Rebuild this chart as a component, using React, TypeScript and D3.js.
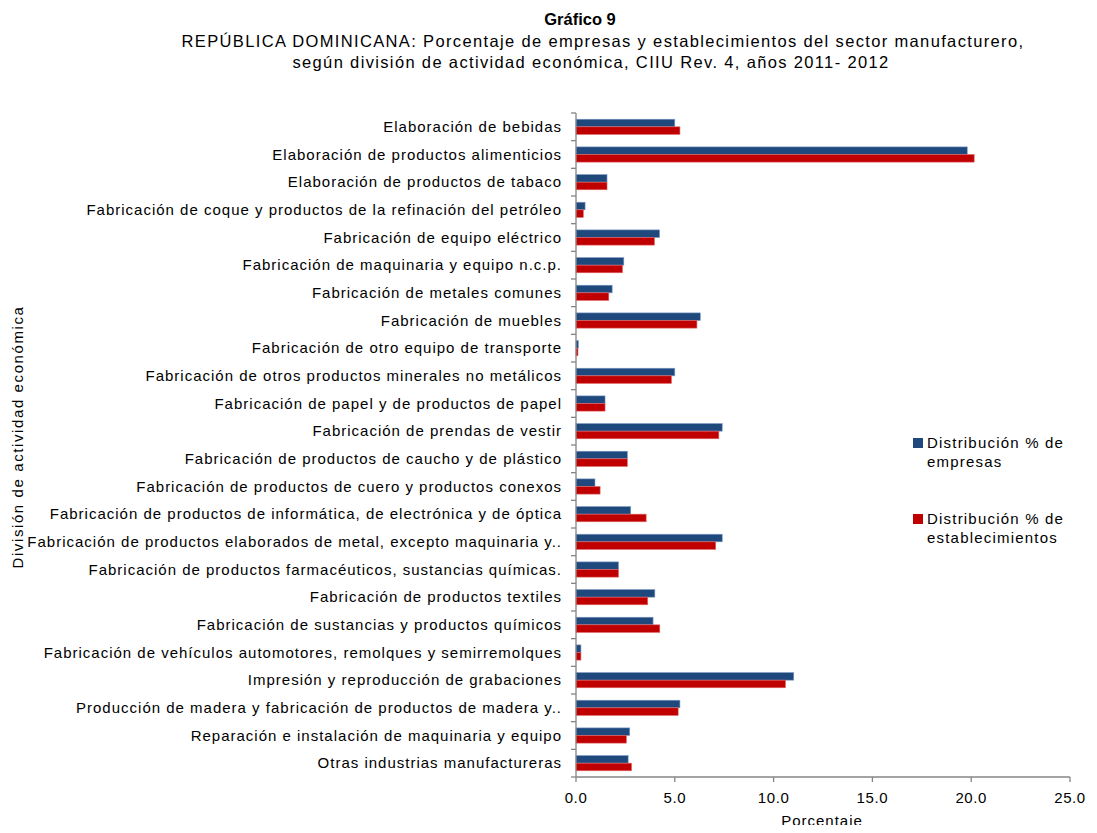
import React from "react";
import * as d3 from "d3";

const categories = [
  "Elaboración de bebidas",
  "Elaboración de productos alimenticios",
  "Elaboración de productos de tabaco",
  "Fabricación de coque y productos de la refinación del petróleo",
  "Fabricación de equipo eléctrico",
  "Fabricación de maquinaria y equipo n.c.p.",
  "Fabricación de metales comunes",
  "Fabricación de muebles",
  "Fabricación de otro equipo de transporte",
  "Fabricación de otros productos minerales no metálicos",
  "Fabricación de papel y de productos de papel",
  "Fabricación de prendas de vestir",
  "Fabricación de productos de caucho y de plástico",
  "Fabricación de productos de cuero y productos conexos",
  "Fabricación de productos de informática, de electrónica y de óptica",
  "Fabricación de productos elaborados de metal, excepto maquinaria y..",
  "Fabricación de productos farmacéuticos, sustancias químicas.",
  "Fabricación de productos textiles",
  "Fabricación de sustancias y productos químicos",
  "Fabricación de vehículos automotores, remolques y semirremolques",
  "Impresión y reproducción de grabaciones",
  "Producción de madera y fabricación de productos de madera y..",
  "Reparación e instalación de maquinaria y equipo",
  "Otras industrias manufactureras",
];

const empresas = [
  5.0, 19.8, 1.57, 0.46, 4.23, 2.42, 1.83, 6.29, 0.12, 5.0, 1.47, 7.4,
  2.6, 0.96, 2.77, 7.4, 2.15, 3.99, 3.9, 0.25, 11.02, 5.26, 2.72, 2.64,
];

const establecimientos = [
  5.26, 20.15, 1.57, 0.37, 3.97, 2.35, 1.66, 6.12, 0.1, 4.83, 1.47, 7.23,
  2.6, 1.22, 3.55, 7.07, 2.15, 3.63, 4.24, 0.25, 10.6, 5.17, 2.55, 2.81,
];

const xTicks = [0, 5, 10, 15, 20, 25];

const seriesNames = ["Distribución % de empresas", "Distribución % de establecimientos"];
const seriesColors = ["#1F497D", "#C00000"];

const W = 1097;
const H = 833;
const FONT = "'Liberation Sans', Arial, sans-serif";

export default function App() {
  const left = 576;
  const right = 1070;
  const top = 113;
  const bottom = 777;

  const x = d3.scaleLinear().domain([0, 25]).range([left, right]);
  const y = d3.scaleBand<string>().domain(categories).range([top, bottom]).paddingInner(0).paddingOuter(0);
  const bw = y.bandwidth();
  const barH = bw * 0.275;

  const boundaries = d3.range(categories.length + 1).map((i) => top + i * bw);

  return (
    <div style={{ margin: -8 }}>
      <svg width={W} height={H} style={{ display: "block", background: "#fff" }} fontFamily={FONT}>
        {/* titles */}
        <text x={580} y={25} textAnchor="middle" fontSize={16.5} fontWeight="bold" fill="#000">
          Gráfico 9
        </text>
        <text x={603} y={47} textAnchor="middle" fontSize={16.5} letterSpacing={1.35} fill="#000">
          REPÚBLICA DOMINICANA: Porcentaje de empresas y establecimientos del sector manufacturero,
        </text>
        <text x={591} y={68} textAnchor="middle" fontSize={16.5} letterSpacing={1.35} fill="#000">
          según división de actividad económica, CIIU Rev. 4, años 2011- 2012
        </text>

        {/* bars */}
        {categories.map((c, i) => {
          const cy = (y(c) as number) + bw / 2;
          return (
            <g key={c}>
              <rect
                x={x(0)}
                y={cy - barH}
                width={x(empresas[i]) - x(0)}
                height={barH}
                fill={seriesColors[0]}
                stroke="#7f9cc4"
                strokeWidth={0.6}
              />
              <rect
                x={x(0)}
                y={cy}
                width={x(establecimientos[i]) - x(0)}
                height={barH}
                fill={seriesColors[1]}
                stroke="#e06666"
                strokeWidth={0.6}
              />
            </g>
          );
        })}

        {/* y axis */}
        <line x1={left} x2={left} y1={top} y2={bottom} stroke="#868686" strokeWidth={1.3} />
        {boundaries.map((b, i) => (
          <line key={i} x1={left - 5} x2={left} y1={b} y2={b} stroke="#868686" strokeWidth={1.3} />
        ))}
        {categories.map((c) => (
          <text
            key={c}
            x={562}
            y={(y(c) as number) + bw / 2 + 5}
            textAnchor="end"
            fontSize={15}
            letterSpacing={1.0}
            fill="#000"
          >
            {c}
          </text>
        ))}

        {/* x axis */}
        <line x1={left} x2={right} y1={bottom} y2={bottom} stroke="#868686" strokeWidth={1.3} />
        {xTicks.map((t) => (
          <g key={t}>
            <line x1={x(t)} x2={x(t)} y1={bottom} y2={bottom + 5} stroke="#868686" strokeWidth={1.3} />
            <text x={x(t)} y={803} textAnchor="middle" fontSize={15} letterSpacing={0.6} fill="#000">
              {d3.format(".1f")(t)}
            </text>
          </g>
        ))}
        <text x={822} y={826} textAnchor="middle" fontSize={15} letterSpacing={1} fill="#000">
          Porcentaje
        </text>

        {/* y title */}
        <text
          transform={`translate(23, 437) rotate(-90)`}
          textAnchor="middle"
          fontSize={15}
          letterSpacing={1.6}
          fill="#000"
        >
          División de actividad económica
        </text>

        {/* legend */}
        {seriesNames.map((s, i) => {
          const ly = 438 + i * 76;
          const words = s.split(" ");
          const line1 = words.slice(0, 3).join(" ");
          const line2 = words.slice(3).join(" ");
          return (
            <g key={s}>
              <rect x={913} y={ly} width={10} height={10} fill={seriesColors[i]} />
              <text x={927} y={ly + 10} fontSize={15} letterSpacing={1.2} fill="#000">
                {line1}
              </text>
              <text x={927} y={ly + 29} fontSize={15} letterSpacing={1.2} fill="#000">
                {line2}
              </text>
            </g>
          );
        })}
      </svg>
    </div>
  );
}
